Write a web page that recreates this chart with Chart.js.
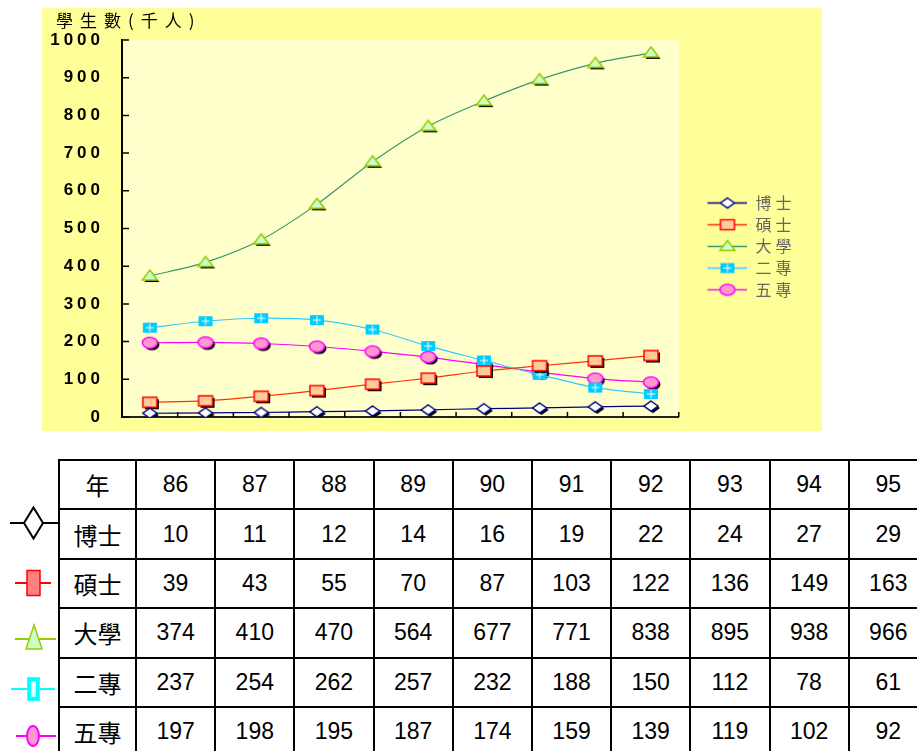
<!DOCTYPE html>
<html>
<head>
<meta charset="utf-8">
<title>學生數</title>
<script src="https://cdn.jsdelivr.net/npm/chart.js@4.4.1/dist/chart.umd.min.js"></script>
<style>
  html, body { margin: 0; padding: 0; background: #fff; overflow: hidden; width: 917px; height: 751px; }
  #box { position: absolute; left: 42px; top: 8px; width: 780px; height: 423px; background: #FFFF99; }
  #box canvas { display: block; }
  #tbl { position: absolute; left: 58px; top: 459px; width: 869px; border-collapse: collapse; table-layout: fixed;
         font-family: "Liberation Sans", "Noto Sans CJK TC", sans-serif; font-size: 23px; color: #000; }
  #tbl td { border: 2px solid #000; padding: 0; text-align: center; }
  #tbl tr { height: 49.4px; }
  #tbl td.name { font-family: "Noto Sans CJK TC", sans-serif; font-size: 24px; }
  #icons { position: absolute; left: 0; top: 0; }
</style>
</head>
<body>
<div id="box"><canvas id="chart" width="780" height="423"></canvas></div>
<table id="tbl"></table>
<svg id="icons" width="60" height="751">
  <line x1="10" y1="523" x2="58" y2="523" stroke="#000" stroke-width="2"/>
  <polygon points="33.5,507.5 43,523 33.5,538.5 24,523" fill="#fff" stroke="#000" stroke-width="2"/>
  <line x1="15" y1="583" x2="51" y2="583" stroke="#ff0000" stroke-width="2"/>
  <rect x="27" y="570.5" width="13" height="25" fill="#ff8080" stroke="#ff0000" stroke-width="1.5"/>
  <line x1="15" y1="639" x2="56" y2="639" stroke="#99cc00" stroke-width="2"/>
  <polygon points="34,625 42,649 26,649" fill="#ccffcc" stroke="#99cc00" stroke-width="1.5"/>
  <line x1="11" y1="689" x2="55" y2="689" stroke="#00ffff" stroke-width="2"/>
  <rect x="27.5" y="677.5" width="12" height="23" fill="#00ffff" stroke="#33ffff" stroke-width="1"/>
  <rect x="31" y="681" width="5" height="16" fill="#b3ffff"/>
  <rect x="32.5" y="682" width="2" height="14" fill="#ffffff"/>
  <line x1="16" y1="736" x2="56" y2="736" stroke="#ff00ff" stroke-width="2"/>
  <ellipse cx="33" cy="736" rx="6" ry="10" fill="#ff99cc" stroke="#ff00ff" stroke-width="2"/>
</svg>
<script>
// data
const years = ['86', '87', '88', '89', '90', '91', '92', '93', '94', '95'];
const yearHeader = '年';
const seriesNames = ['博士', '碩士', '大學', '二專', '五專'];
const doctor = [10, 11, 12, 14, 16, 19, 22, 24, 27, 29];
const master = [39, 43, 55, 70, 87, 103, 122, 136, 149, 163];
const university = [374, 410, 470, 564, 677, 771, 838, 895, 938, 966];
const juniorTwo = [237, 254, 262, 257, 232, 188, 150, 112, 78, 61];
const juniorFive = [197, 198, 195, 187, 174, 159, 139, 119, 102, 92];
const yTitle = '學生數(千人)';
const yMin = 0;
const yMax = 1000;
const yStep = 100;

const seriesData = [doctor, master, university, juniorTwo, juniorFive];

// marker looks
const markerStyles = [
  { kind: 'diamond', fill: '#ffffff', stroke: '#000080', line: '#000080', shadow: true },
  { kind: 'square', fill: '#ffcc99', stroke: '#ff0000', line: '#ff3300', shadow: true },
  { kind: 'triangle', fill: '#ccffcc', stroke: '#99cc00', line: '#339966', shadow: true },
  { kind: 'plus', fill: '#00ccff', stroke: null, line: '#33ccff', shadow: false },
  { kind: 'ellipse', fill: '#ff99cc', stroke: '#ff00ff', line: '#ff00ff', shadow: true }
];

function shapePath(ctx, kind, cx, cy) {
  ctx.beginPath();
  if (kind === 'diamond') {
    ctx.moveTo(cx, cy - 5); ctx.lineTo(cx + 7, cy); ctx.lineTo(cx, cy + 5); ctx.lineTo(cx - 7, cy);
    ctx.closePath();
  } else if (kind === 'square' || kind === 'plus') {
    ctx.rect(cx - 7, cy - 5, 14, 10);
  } else if (kind === 'triangle') {
    ctx.moveTo(cx, cy - 6); ctx.lineTo(cx + 7.5, cy + 4); ctx.lineTo(cx - 7.5, cy + 4);
    ctx.closePath();
  } else {
    ctx.ellipse(cx, cy, 7.5, 5.5, 0, 0, Math.PI * 2);
  }
}

function drawShape(ctx, st, cx, cy) {
  shapePath(ctx, st.kind, cx, cy);
  ctx.fillStyle = st.fill;
  ctx.fill();
  if (st.stroke) {
    ctx.lineWidth = 1.5;
    ctx.strokeStyle = st.stroke;
    ctx.stroke();
  }
  if (st.kind === 'plus') {
    ctx.beginPath();
    ctx.moveTo(cx - 4, cy); ctx.lineTo(cx + 4, cy);
    ctx.moveTo(cx, cy - 4); ctx.lineTo(cx, cy + 4);
    ctx.strokeStyle = '#ffffff';
    ctx.lineWidth = 1;
    ctx.stroke();
  }
}

function makeMarker(st) {
  const c = document.createElement('canvas');
  c.width = 24; c.height = 20;
  const ctx = c.getContext('2d');
  if (st.shadow) {
    shapePath(ctx, st.kind, 14, 12);
    ctx.fillStyle = '#000';
    ctx.fill();
  }
  drawShape(ctx, st, 12, 10);
  return c;
}

function makeLegendIcon(st) {
  const c = document.createElement('canvas');
  c.width = 63; c.height = 15;
  const ctx = c.getContext('2d');
  ctx.beginPath();
  ctx.moveTo(23, 7.5); ctx.lineTo(63, 7.5);
  ctx.strokeStyle = st.line;
  ctx.lineWidth = 1.5;
  ctx.stroke();
  drawShape(ctx, st, 43, 7.5);
  return c;
}

const legendIcons = markerStyles.map(makeLegendIcon);

// plugins
const plotBg = {
  id: 'plotBg',
  beforeDraw(chart) {
    const { ctx, chartArea: a } = chart;
    ctx.save();
    ctx.fillStyle = '#FFFFCC';
    ctx.fillRect(a.left, a.top, a.right - a.left, a.bottom - a.top);
    ctx.restore();
    ctx.letterSpacing = '4px';
  },
  afterDraw(chart) {
    chart.ctx.letterSpacing = '0px';
  }
};

const innerTicks = {
  id: 'innerTicks',
  beforeDatasetsDraw(chart) {
    const { ctx, chartArea: a, scales: { x, y } } = chart;
    ctx.save();
    ctx.strokeStyle = '#000';
    ctx.lineWidth = 1.5;
    ctx.beginPath();
    y.ticks.forEach(t => {
      const py = y.getPixelForValue(t.value);
      ctx.moveTo(a.left, py); ctx.lineTo(a.left + 7, py);
    });
    for (let i = 0; i <= years.length; i++) {
      const px = x.getPixelForValue(i - 0.5);
      ctx.moveTo(px, a.bottom); ctx.lineTo(px, a.bottom - 5);
    }
    ctx.stroke();
    ctx.restore();
  }
};

const axisTitle = {
  id: 'axisTitle',
  afterDraw(chart) {
    const ctx = chart.ctx;
    ctx.save();
    ctx.letterSpacing = '7px';
    ctx.font = '17px "Noto Sans CJK TC"';
    ctx.fillStyle = '#000';
    ctx.textBaseline = 'middle';
    ctx.fillText(yTitle, 14, 13);
    ctx.restore();
  }
};

new Chart(document.getElementById('chart'), {
  type: 'line',
  data: {
    labels: years,
    datasets: seriesNames.map((name, i) => ({
      label: name,
      data: seriesData[i],
      borderColor: markerStyles[i].line,
      borderWidth: 1.2,
      tension: 0.3,
      fill: false,
      pointStyle: makeMarker(markerStyles[i]),
      pointRadius: 7
    }))
  },
  options: {
    responsive: false,
    animation: false,
    layout: { padding: { top: 32, right: 24.5, bottom: 14, left: 0 } },
    plugins: {
      tooltip: { enabled: false },
      legend: {
        position: 'right',
        align: 'center',
        title: { display: true, text: '', padding: { top: 23.8, bottom: 0 }, font: { size: 10 } },
        labels: {
          usePointStyle: true,
          pointStyleWidth: 63,
          padding: 5.7,
          color: '#000',
          font: { size: 16, family: '"Noto Sans CJK TC"' },
          generateLabels(chart) {
            return chart.data.datasets.map((ds, i) => ({
              text: ds.label,
              pointStyle: legendIcons[i],
              datasetIndex: i,
              hidden: false,
              lineWidth: 0,
              fillStyle: 'transparent',
              strokeStyle: 'transparent'
            }));
          }
        }
      }
    },
    scales: {
      x: {
        type: 'category',
        offset: true,
        grid: { display: false, drawTicks: false },
        ticks: { display: false },
        border: { display: true, color: '#222', width: 2 }
      },
      y: {
        min: yMin,
        max: yMax,
        ticks: {
          stepSize: yStep,
          color: '#000',
          padding: 18,
          font: { family: '"Liberation Sans", Arial, sans-serif', size: 17, weight: 'bold' },
          callback: v => String(v)
        },
        grid: { display: false, drawTicks: false },
        border: { display: true, color: '#000', width: 2 },
        afterFit(scale) {
          scale.width = 80;
          scale.paddingTop = 0;
          scale.paddingBottom = 0;
        }
      }
    }
  },
  plugins: [plotBg, innerTicks, axisTitle]
});

// table from the same arrays
const tbl = document.getElementById('tbl');
const colgroup = document.createElement('colgroup');
[77].concat(years.map(() => 79.2)).forEach(w => {
  const col = document.createElement('col');
  col.style.width = w + 'px';
  colgroup.appendChild(col);
});
tbl.appendChild(colgroup);
function addRow(name, values) {
  const tr = document.createElement('tr');
  const th = document.createElement('td');
  th.className = 'name';
  th.textContent = name;
  tr.appendChild(th);
  values.forEach(v => {
    const td = document.createElement('td');
    td.textContent = v;
    tr.appendChild(td);
  });
  tbl.appendChild(tr);
}
addRow(yearHeader, years);
seriesNames.forEach((name, i) => addRow(name, seriesData[i]));
</script>
</body>
</html>
